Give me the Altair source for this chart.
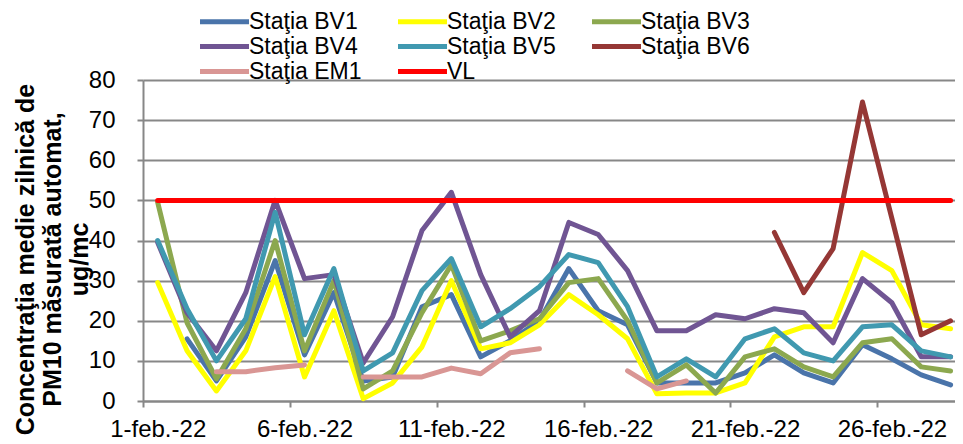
import altair as alt
import pandas as pd

days = list(range(1, 29))
x_tick_values = [0.5, 5.5, 10.5, 15.5, 20.5, 25.5]
x_tick_labels = ["1-feb.-22", "6-feb.-22", "11-feb.-22", "16-feb.-22", "21-feb.-22", "26-feb.-22"]
y_tick_values = [0, 10, 20, 30, 40, 50, 60, 70, 80]

series_names = ["Staţia BV1", "Staţia BV2", "Staţia BV3", "Staţia BV4",
                "Staţia BV5", "Staţia BV6", "Staţia EM1", "VL"]
series_colors = ["#4A74AA", "#FFFF00", "#8CA84F", "#705593",
                 "#4099B0", "#953735", "#D99694", "#FF0000"]
series_widths = [5, 5, 5, 5, 5, 5, 5, 6.5]

N = None
bv1 = [N, 15.5, 5, 16, 35, 11.5, 27, 5, 6, 23.5, 26.5, 11, 15, 20, 33, 22.5, 19, 4.5, 4.5, 4.5, 7, 11.5, 7, 4.5, 14, 10.5, 6.5, 4]
bv2 = [29.5, 12.5, 2.5, 12.5, 31, 6, 22.5, 0.6, 4.5, 13.5, 30, 13, 14.5, 19, 26.5, 21.5, 15.5, 1.8, 2, 2, 4.5, 16, 18.5, 18.5, 37, 32.5, 19, 18]
bv3 = [49.5, 19.5, 5.5, 18, 40, 12.5, 30, 3, 7.5, 22, 34, 15, 17.5, 20.5, 29.5, 30.5, 20, 4.5, 9, 2, 11, 13, 8.5, 6, 14.5, 15.5, 8.5, 7.5]
bv4 = [39.5, 22, 12.5, 27, 50, 30.5, 31.5, 9.5, 21, 42.5, 52, 31.5, 16, 22.5, 44.5, 41.5, 32.5, 17.5, 17.5, 21.5, 20.5, 23, 22, 14.5, 30.5, 24.5, 11, 11]
bv5 = [40, 23, 10, 20.5, 47, 16.5, 33, 7.5, 12, 27.5, 35.5, 18.5, 23, 28.5, 36.5, 34.5, 23.5, 6, 10.5, 6, 15.5, 18, 12, 10, 18.5, 19, 12.5, 11]
bv6 = [N] * 21 + [42, 27, 38, 74.5, 45.5, 16.5, 20]
em1 = [N, N, 7.3, 7.3, 8.3, 9, N, 6, 6, 6, 8.2, 6.8, 12, 13, N, N, 7.5, 3, 5, N, N, N, N, N, N, N, N, N]
vl = [50] * 28

all_series = [bv1, bv2, bv3, bv4, bv5, bv6, em1, vl]

rows = []
for name, vals in zip(series_names, all_series):
    for d, v in zip(days, vals):
        rows.append({"day": d, "value": v, "series": name})
df = pd.DataFrame(rows)

FONT = "Liberation Sans"
GRAY = "#878787"

label_array = "[" + ",".join("'" + s + "'" for s in x_tick_labels) + "]"

x_enc = alt.X(
    "day:Q",
    scale=alt.Scale(domain=[0.5, 28.15], nice=False, zero=False),
    axis=alt.Axis(
        values=x_tick_values,
        labelExpr=label_array + "[round((datum.value - 0.5) / 5)]",
        labelOffset=14.7,
        labelFlush=False,
        labelOverlap=False,
        labelBound=False,
        grid=False,
        title=None,
        tickSize=6,
        tickWidth=2,
        tickColor=GRAY,
        domainColor=GRAY,
        domainWidth=2,
        labelFont=FONT,
        labelFontSize=24,
        labelColor="#000000",
        labelPadding=10,
    ),
)

y_enc = alt.Y(
    "value:Q",
    scale=alt.Scale(domain=[0, 80], nice=False, zero=True),
    axis=alt.Axis(
        values=y_tick_values,
        grid=True,
        gridColor=GRAY,
        gridWidth=2,
        tickSize=6,
        tickWidth=2,
        tickColor=GRAY,
        domainColor=GRAY,
        domainWidth=2,
        labelFont=FONT,
        labelFontSize=24,
        labelColor="#000000",
        labelPadding=22,
        title=["Concentraţia medie zilnică de", "PM10 măsurată automat,", "ug/mc"],
        titleFont=FONT,
        titleFontSize=25,
        titleFontWeight="bold",
        titleColor="#000000",
        titleAngle=270,
        titleAlign="center",
        titleBaseline="alphabetic",
        titleX=-110,
        titleY=179,
        titleLineHeight=27,
    ),
)

chart = (
    alt.Chart(df)
    .mark_line(strokeCap="round", strokeJoin="round")
    .encode(
        x=x_enc,
        y=y_enc,
        color=alt.Color(
            "series:N",
            scale=alt.Scale(domain=series_names, range=series_colors),
            sort=series_names,
            legend=alt.Legend(
                title=None,
                orient="none",
                direction="horizontal",
                legendX=70,
                legendY=-70,
                columns=3,
                symbolType="M-4,0L4,0",
                symbolSize=150,
                symbolStrokeWidth=5,
                labelFont=FONT,
                labelFontSize=23,
                labelColor="#000000",
                labelOffset=13,
                columnPadding=26,
                rowPadding=1,
                labelLimit=300,
            ),
        ),
        strokeWidth=alt.StrokeWidth(
            "series:N",
            scale=alt.Scale(domain=series_names, range=series_widths),
            legend=None,
        ),
        order=alt.Order("day:Q"),
    )
    .properties(
        width=812,
        height=321,
        padding={"left": 135, "top": 72, "right": 0, "bottom": 43},
        autosize=alt.AutoSizeParams(type="none"),
        background="#FFFFFF",
    )
    .configure_view(strokeWidth=0)
)

chart.save("out.html", embed_options={"renderer": "svg", "actions": False})
